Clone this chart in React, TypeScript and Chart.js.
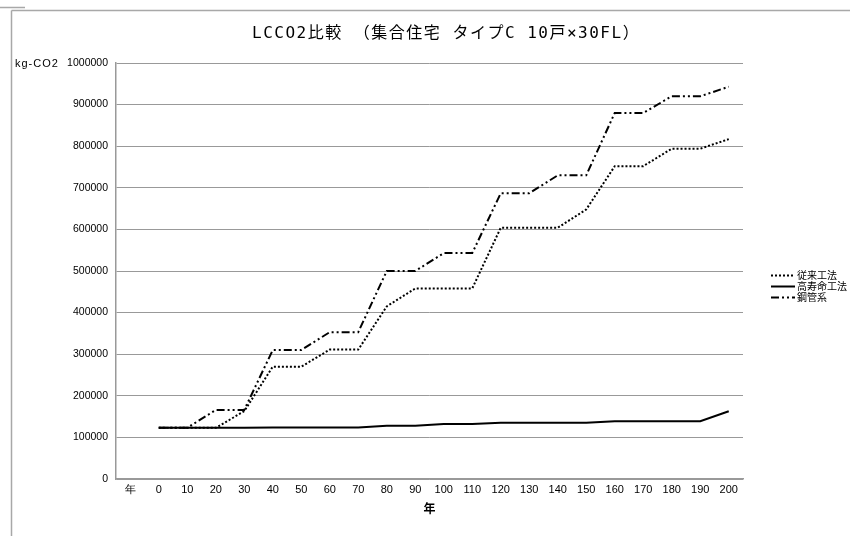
import React, { useEffect, useRef } from "react";
import { Chart, registerables } from "chart.js";

Chart.register(...registerables);

const TITLE = "LCCO2比較 （集合住宅 タイプC 10戸×30FL）";
const Y_UNIT = "kg-CO2";
const X_TITLE = "年";

const categories = [
  "年", "0", "10", "20", "30", "40", "50", "60", "70", "80", "90", "100",
  "110", "120", "130", "140", "150", "160", "170", "180", "190", "200",
];

const conventional = [
  null, 123000, 123000, 123000, 163000, 270000, 270000, 311000, 311000, 415000,
  458000, 458000, 458000, 604000, 604000, 604000, 648000, 752000, 752000,
  794000, 794000, 817000,
];

const longLife = [
  null, 123000, 123000, 123000, 123000, 124000, 124000, 124000, 124000, 128000,
  128000, 132000, 132000, 135000, 135000, 135000, 135000, 139000, 139000,
  139000, 139000, 163000,
];

const steelPipe = [
  null, 123000, 123000, 166000, 166000, 310000, 310000, 353000, 353000, 500000,
  500000, 543000, 543000, 687000, 687000, 730000, 730000, 880000, 880000,
  920000, 920000, 943000,
];

const seriesNames = ["従来工法", "高寿命工法", "鋼管系"];

const yTicks = [0, 100000, 200000, 300000, 400000, 500000, 600000, 700000, 800000, 900000, 1000000];

const CJK = '"Noto Sans CJK JP", "Noto Sans", sans-serif';
const MONO_CJK = '"DejaVu Sans Mono", "Noto Sans CJK JP", monospace';
const SANS = '"Liberation Sans", Arial, sans-serif';

const framePlugin = {
  id: "frame",
  beforeDraw(chart: any) {
    const ctx = chart.ctx;
    ctx.save();
    ctx.fillStyle = "#ffffff";
    ctx.fillRect(0, 0, chart.width, chart.height);
    ctx.strokeStyle = "#a8a8a8";
    ctx.lineWidth = 1.5;
    ctx.beginPath();
    ctx.moveTo(0, 7.5);
    ctx.lineTo(25, 7.5);
    ctx.moveTo(11.5, 10.5);
    ctx.lineTo(chart.width, 10.5);
    ctx.moveTo(11.5, 10.5);
    ctx.lineTo(11.5, chart.height);
    ctx.stroke();
    ctx.restore();
  },
  afterDraw(chart: any) {
    const ctx = chart.ctx;
    ctx.save();
    // title
    ctx.fillStyle = "#000";
    ctx.font = `16px ${MONO_CJK}`;
    ctx.textAlign = "left";
    ctx.textBaseline = "middle";
    const target = 388;
    const w = ctx.measureText(TITLE).width;
    const n = Array.from(TITLE).length;
    const extra = Math.max(0, (target - w) / n);
    (ctx as any).letterSpacing = `${extra.toFixed(2)}px`;
    ctx.fillText(TITLE, 446 - target / 2, 34);
    (ctx as any).letterSpacing = "0px";
    // y unit label
    ctx.font = `11px ${SANS}`;
    (ctx as any).letterSpacing = "1px";
    ctx.fillText(Y_UNIT, 15, 64);
    (ctx as any).letterSpacing = "0px";
    // legend
    const x0 = 771;
    const x1 = 795;
    const ys = [275, 286, 297];
    chart.data.datasets.forEach((ds: any, i: number) => {
      const y = ys[i];
      ctx.strokeStyle = ds.borderColor;
      ctx.lineWidth = ds.borderWidth;
      ctx.setLineDash(ds.borderDash || []);
      ctx.beginPath();
      ctx.moveTo(x0, y + 0.5);
      ctx.lineTo(x1, y + 0.5);
      ctx.stroke();
      ctx.setLineDash([]);
      ctx.fillStyle = "#000";
      ctx.font = `10px ${CJK}`;
      ctx.textAlign = "left";
      ctx.textBaseline = "middle";
      ctx.fillText(ds.label, x1 + 2, y);
    });
    ctx.restore();
  },
};

export default function App() {
  const ref = useRef<HTMLCanvasElement | null>(null);

  useEffect(() => {
    if (!ref.current) return;
    const chart = new Chart(ref.current, {
      type: "line",
      data: {
        labels: categories,
        datasets: [
          {
            label: seriesNames[0],
            data: conventional,
            borderColor: "#000",
            borderWidth: 2,
            borderDash: [2, 2],
            pointRadius: 0,
            tension: 0,
            fill: false,
          },
          {
            label: seriesNames[1],
            data: longLife,
            borderColor: "#000",
            borderWidth: 2,
            borderDash: [],
            pointRadius: 0,
            tension: 0,
            fill: false,
          },
          {
            label: seriesNames[2],
            data: steelPipe,
            borderColor: "#000",
            borderWidth: 2,
            borderDash: [8, 3, 2, 3, 2, 3],
            pointRadius: 0,
            tension: 0,
            fill: false,
          },
        ],
      },
      options: {
        responsive: false,
        animation: false,
        devicePixelRatio: 1,
        layout: { padding: { left: 0, right: 107, top: 63, bottom: 0 } },
        plugins: {
          legend: { display: false },
          tooltip: { enabled: false },
          title: { display: false },
        },
        scales: {
          x: {
            type: "category",
            offset: true,
            grid: { display: false, drawTicks: false },
            border: { display: true, color: "#999", width: 1.5 },
            ticks: {
              color: "#000",
              font: { family: SANS, size: 11 },
              padding: 4,
              autoSkip: false,
              maxRotation: 0,
            },
            title: {
              display: true,
              text: X_TITLE,
              color: "#000",
              font: { family: CJK, size: 12, weight: "bold" },
              padding: { top: 0, bottom: 20 },
            },
            afterFit(scale: any) {
              scale.height = 57;
            },
          },
          y: {
            min: 0,
            max: 1000000,
            grid: { color: "#999", lineWidth: 1, drawTicks: false },
            border: { display: true, color: "#999", width: 1.5 },
            afterBuildTicks(scale: any) {
              scale.ticks = yTicks.map((v) => ({ value: v }));
            },
            ticks: {
              color: "#000",
              font: { family: SANS, size: 10.5 },
              padding: 8,
              callback: (v: any) => String(v),
            },
            afterFit(scale: any) {
              scale.width = 116;
            },
          },
        },
      },
      plugins: [framePlugin],
    });
    return () => chart.destroy();
  }, []);

  return (
    <div style={{ position: "fixed", left: 0, top: 0, width: 850, height: 536, background: "#fff" }}>
      <canvas ref={ref} width={850} height={536} style={{ display: "block" }} />
    </div>
  );
}
